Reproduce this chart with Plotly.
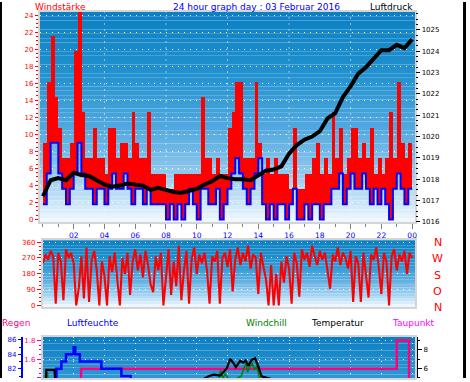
import plotly.graph_objects as go

W, H = 470, 382

# ---------------- data ----------------
DAY_TITLE = "24 hour graph day : 03 Februar 2016"
HOUR_TICKS = [2, 4, 6, 8, 10, 12, 14, 16, 18, 20, 22, 24]
HOUR_LABELS = ["02", "04", "06", "08", "10", "12", "14", "16", "18", "20", "22", "00"]

# wind, 15-minute bins (km/h)
WIND_BIN_HOURS = [i * 0.25 for i in range(96)]
GUST = [9.0, 16.2, 21.6, 14.4, 10.8, 7.2, 7.2, 9.0, 19.8, 25.2, 12.6, 7.2, 7.2, 10.8, 7.2, 7.2,
        5.4, 10.8, 10.8, 7.2, 9.0, 9.0, 7.2, 12.6, 9.0, 7.2, 7.2, 12.6, 5.4, 5.4, 5.4, 5.4,
        3.6, 3.6, 5.4, 5.4, 5.4, 5.4, 5.4, 5.4, 5.4, 14.4, 7.2, 7.2, 5.4, 7.2, 5.4, 5.4,
        10.8, 12.6, 16.2, 16.2, 7.2, 7.2, 7.2, 16.2, 9.0, 5.4, 7.2, 5.4, 7.2, 5.4, 5.4, 5.4,
        3.6, 10.8, 3.6, 3.6, 5.4, 5.4, 7.2, 9.0, 5.4, 7.2, 5.4, 12.6, 7.2, 10.8, 5.4, 7.2,
        10.8, 10.8, 7.2, 9.0, 7.2, 10.8, 5.4, 7.2, 5.4, 7.2, 12.6, 7.2, 16.2, 9.0, 7.2, 9.0]
SPEED = [1.8, 5.4, 9.0, 9.0, 5.4, 3.6, 1.8, 3.6, 5.4, 9.0, 5.4, 3.6, 3.6, 1.8, 3.6, 3.6,
         1.8, 3.6, 5.4, 3.6, 3.6, 5.4, 3.6, 1.8, 3.6, 3.6, 1.8, 3.6, 1.8, 1.8, 1.8, 1.8,
         0.0, 1.8, 0.0, 1.8, 0.0, 1.8, 3.6, 1.8, 0.0, 3.6, 3.6, 1.8, 1.8, 3.6, 0.0, 1.8,
         3.6, 5.4, 7.2, 5.4, 3.6, 1.8, 3.6, 5.4, 7.2, 1.8, 0.0, 1.8, 0.0, 1.8, 1.8, 0.0,
         1.8, 3.6, 0.0, 0.0, 1.8, 0.0, 1.8, 1.8, 0.0, 1.8, 1.8, 3.6, 3.6, 5.4, 1.8, 3.6,
         5.4, 3.6, 3.6, 5.4, 3.6, 1.8, 3.6, 1.8, 3.6, 1.8, 0.0, 3.6, 5.4, 3.6, 1.8, 3.6]

# pressure, 30-minute readings (hPa)
PRESSURE_HOURS = [i * 0.5 for i in range(49)]
PRESSURE = [1017.2, 1017.95, 1018.05, 1017.95, 1018.3, 1018.2, 1018.15, 1017.95, 1017.75, 1017.65,
            1017.7, 1017.8, 1017.75, 1017.7, 1017.5, 1017.6, 1017.5, 1017.4, 1017.35, 1017.45,
            1017.55, 1017.75, 1017.9, 1018.15, 1018.05, 1018.0, 1018.0, 1017.95, 1018.2, 1018.4,
            1018.45, 1018.6, 1019.2, 1019.6, 1019.85, 1020.0, 1020.25, 1020.85, 1021.1, 1021.85,
            1022.35, 1022.95, 1023.25, 1023.65, 1024.05, 1024.05, 1024.3, 1024.15, 1024.55]

# wind direction, 10-minute readings (degrees)
DIR_HOURS = [i / 6 for i in range(145)]
DIRECTION = [240, 290, 260, 310, 280, 10, 300, 250, 30, 320, 270, 300,
             240, 0, 100, 280, 40, 330, 20, 260, 310, 200, 0, 250,
             170, 0, 280, 190, 300, 150, 0, 270, 180, 300, 60, 250,
             320, 200, 290, 160, 310, 230, 120, 75, 280, 200, 300, 0,
             150, 320, 60, 250, 110, 340, 30, 200, 310, 10, 260, 330,
             180, 290, 240, 300, 200, 10, 280, 250, 310, 10, 270, 300,
             220, 320, 80, 260, 330, 230, 300, 250, 340, 210, 290, 270,
             65, 300, 220, 150, 0, 230, 0, 180, 0, 250, 130, 280,
             210, 10, 300, 240, 50, 320, 260, 300, 220, 340, 280, 230,
             310, 260, 300, 200, 95, 290, 250, 330, 230, 300, 270, 210,
             310, 20, 280, 240, 20, 300, 180, 45, 290, 260, 330, 220,
             65, 300, 250, 0, 280, 320, 200, 290, 250, 310, 180, 300,
             270]

# lower panel
HUM_HOURS = [0, 0.88, 1.2, 1.5, 2.0, 2.1, 2.4, 3.8, 5.1, 5.7, 24]
HUMIDITY = [79, 82, 83, 84, 85, 84, 83, 82, 81, 80, 80]
RAIN_HOURS = [0, 2.48, 23.0, 23.8, 24]
RAIN = [1.2, 1.5, 1.8, 0.0, 0.0]
TEMP_HOURS = [0, 0.18, 0.22, 0.75, 0.8, 2, 4, 6, 8, 9, 10, 10.77, 11.1, 11.53, 11.96, 12.17,
              12.39, 12.54, 12.82, 13.03, 13.18, 13.35, 13.57, 13.79, 14.0, 14.21, 15, 18, 21, 24]
TEMP = [4.6, 4.7, 5.85, 5.85, 4.7, 4.4, 4.2, 4.0, 3.9, 4.1, 4.5, 5.16, 5.34, 5.23, 6.03, 7.02,
        6.56, 6.14, 6.81, 6.63, 6.84, 6.28, 6.91, 7.08, 6.21, 5.16, 4.8, 4.5, 4.2, 4.0]
WCHILL_HOURS = [0, 0.25, 0.3, 0.35, 1, 4, 8, 10.5, 11.4, 11.55, 11.7, 11.85, 12.2, 12.9, 13.05,
                13.2, 13.3, 13.45, 13.6, 13.75, 13.9, 14.1, 16, 20, 24]
WCHILL = [3.5, 3.8, 5.6, 4.2, 3.6, 3.2, 3.0, 3.8, 4.6, 5.8, 5.0, 5.4, 4.6, 5.2, 6.0,
          6.5, 5.6, 6.2, 6.5, 5.9, 6.2, 4.8, 4.0, 3.6, 3.4]

# ---------------- helpers (layout only) ----------------
FONT = "DejaVu Sans"
DOTS = "1px,5px"


def fx(px):
    return px / W


def fy(py):
    return 1 - py / H


def lerp_color(stops, t):
    for (t0, c0), (t1, c1) in zip(stops[:-1], stops[1:]):
        if t0 <= t <= t1:
            k = (t - t0) / (t1 - t0) if t1 > t0 else 0
            c = [round(a + (b - a) * k) for a, b in zip(c0, c1)]
            return "rgb(%d,%d,%d)" % tuple(c)
    c = stops[-1][1]
    return "rgb(%d,%d,%d)" % tuple(c)


GRAD_MAIN = [(0.0, (11, 127, 193)), (0.3, (35, 146, 208)), (0.55, (80, 168, 222)),
             (0.75, (140, 198, 236)), (0.9, (200, 228, 247)), (1.0, (243, 249, 255))]
GRAD_LOW = [(0.0, (11, 127, 193)), (1.0, (48, 151, 212))]

shapes = []


def gradient(xref, yref, stops, n):
    for i in range(n):
        t0, t1 = i / n, (i + 1) / n
        shapes.append(dict(type="rect", xref=xref, yref=yref, x0=0, x1=1,
                           y0=1 - t1, y1=1 - t0, line=dict(width=0),
                           fillcolor=lerp_color(stops, (t0 + t1) / 2), layer="below"))


gradient("x domain", "y domain", GRAD_MAIN, 48)
gradient("x2 domain", "y3 domain", GRAD_MAIN, 24)
gradient("x3 domain", "y4 domain", GRAD_LOW, 12)

for hgrid in [4, 8, 12, 16, 20]:
    shapes.append(dict(type="line", xref="x", yref="y domain", x0=hgrid, x1=hgrid, y0=0, y1=1,
                       line=dict(color="white", width=1, dash=DOTS), layer="below"))

# black frame strips
shapes.append(dict(type="rect", xref="paper", yref="paper", x0=0, x1=fx(2), y0=0, y1=1,
                   fillcolor="black", line=dict(width=0)))
shapes.append(dict(type="rect", xref="paper", yref="paper", x0=fx(465), x1=fx(468), y0=0, y1=1,
                   fillcolor="black", line=dict(width=0)))

fig = go.Figure()

fig.add_trace(go.Bar(x=WIND_BIN_HOURS, y=[g - s for g, s in zip(GUST, SPEED)], base=SPEED,
                     width=0.25, offset=0, marker=dict(color="#ff0000", line=dict(width=0)),
                     xaxis="x", yaxis="y"))
fig.add_trace(go.Scatter(x=WIND_BIN_HOURS + [24], y=SPEED + [SPEED[-1]], mode="lines",
                         line=dict(color="#0000ff", width=2, shape="hv"), xaxis="x", yaxis="y"))
fig.add_trace(go.Scatter(x=PRESSURE_HOURS, y=PRESSURE, mode="lines",
                         line=dict(color="black", width=4), xaxis="x", yaxis="y2"))
fig.add_trace(go.Scatter(x=DIR_HOURS, y=DIRECTION, mode="lines",
                         line=dict(color="#ff0000", width=2.1), xaxis="x2", yaxis="y3"))
fig.add_trace(go.Scatter(x=HUM_HOURS, y=HUMIDITY, mode="lines",
                         line=dict(color="#0000ff", width=2.5, shape="hv"), xaxis="x3", yaxis="y5"))
fig.add_trace(go.Scatter(x=WCHILL_HOURS, y=WCHILL, mode="lines",
                         line=dict(color="#008000", width=1.5), xaxis="x3", yaxis="y6"))
fig.add_trace(go.Scatter(x=TEMP_HOURS, y=TEMP, mode="lines",
                         line=dict(color="black", width=2.2), xaxis="x3", yaxis="y6"))
fig.add_trace(go.Scatter(x=RAIN_HOURS, y=RAIN, mode="lines",
                         line=dict(color="#ff0080", width=2.5, shape="hv"), xaxis="x3", yaxis="y4"))

GRID = dict(showgrid=True, gridcolor="white", griddash=DOTS, gridwidth=1)
EDGE = dict(showline=True, linecolor="#d4d4d4", linewidth=2, mirror=True, zeroline=False)
H0, PXH = 43.1, 15.45
XR_TOP = [(40 - H0) / PXH, (417 - H0) / PXH]
XR_LOW = [(43 - H0) / PXH, (417 - H0) / PXH]

annotations = []


def label(text, x, y, color, size=9):
    annotations.append(dict(text=text, x=fx(x), y=fy(y), xref="paper", yref="paper",
                            showarrow=False, xanchor="center", yanchor="middle",
                            font=dict(family=FONT, size=size, color=color)))


label("Windstärke", 61, 5.5, "#ff0000")
label(DAY_TITLE, 257.5, 5.5, "#0000ff")
label("Luftdruck", 393.3, 5.5, "black")
label("Regen", 16, 326, "#ff0080")
label("Luftfeuchte", 93.3, 326, "#0000ff")
label("Windchill", 267.7, 326, "#008000")
label("Temperatur", 339.3, 326, "black")
label("Taupunkt", 415.5, 326, "#ff00ff")
for letter, yy in zip(["N", "W", "S", "O", "N"], [244.3, 260.3, 278, 294.2, 310]):
    label(letter, 439.7, yy, "#ff0000", 11)

fig.update_layout(
    width=W, height=H, autosize=False,
    margin=dict(l=0, r=0, t=0, b=0, pad=0),
    paper_bgcolor="white", plot_bgcolor="white",
    showlegend=False, bargap=0,
    font=dict(family=FONT, size=7),
    shapes=shapes, annotations=annotations,
    xaxis=dict(domain=[fx(40), fx(417)], range=XR_TOP, anchor="y",
               tickmode="array", tickvals=HOUR_TICKS, ticktext=HOUR_LABELS,
               ticks="outside", ticklen=5, tickcolor="#808080",
               tickfont=dict(color="#0000ff", size=7.5, family=FONT),
               minor=dict(dtick=1, tick0=0, ticks="outside", ticklen=3, tickcolor="#808080"),
               showgrid=False, **EDGE),
    yaxis=dict(domain=[fy(224), fy(10)], range=[-0.35, 24.38], anchor="x",
               tick0=0, dtick=2, ticks="outside", ticklen=3, tickcolor="#ff0000",
               tickfont=dict(color="#ff0000", size=7, family=FONT),
               minor=dict(dtick=0.5, tick0=0, ticks="outside", ticklen=2, tickcolor="#ff0000"),
               **GRID, **EDGE),
    yaxis2=dict(overlaying="y", side="right", anchor="x", range=[1015.97, 1025.845],
                tick0=1016, dtick=1, ticks="outside", ticklen=4, tickcolor="black",
                tickfont=dict(color="black", size=7, family=FONT),
                minor=dict(dtick=0.25, tick0=1016, ticks="outside", ticklen=2, tickcolor="black"),
                showgrid=False, zeroline=False, showline=False),
    xaxis2=dict(domain=[fx(43), fx(417)], range=XR_LOW, anchor="y3",
                showticklabels=False, ticks="", showgrid=False, **EDGE),
    yaxis3=dict(domain=[fy(310), fy(242)], range=[-9.5, 371.2], anchor="x2",
                tick0=0, dtick=90, ticks="outside", ticklen=4, tickcolor="#ff0000",
                tickfont=dict(color="#ff0000", size=7, family=FONT),
                minor=dict(dtick=22.5, tick0=0, ticks="outside", ticklen=2, tickcolor="#ff0000"),
                **GRID, **EDGE),
    xaxis3=dict(domain=[fx(43), fx(417)], range=XR_LOW, anchor="y4",
                showticklabels=False, ticks="", tick0=0, dtick=2, **GRID, **EDGE),
    yaxis4=dict(domain=[0, fy(340)], range=[1.4, 1.842], anchor="x3", side="left",
                tick0=0, dtick=0.2, tickformat=".1f", ticks="outside", ticklen=4,
                tickcolor="#ff0080", tickfont=dict(color="#ff0080", size=7, family=FONT),
                minor=dict(dtick=0.05, tick0=0, ticks="outside", ticklen=2, tickcolor="#ff0080"),
                **GRID, **EDGE),
    yaxis5=dict(overlaying="y4", anchor="free", position=fx(22), side="left",
                range=[80.73, 86.45], tick0=0, dtick=2, ticks="outside", ticklen=3,
                tickcolor="#0000ff", tickfont=dict(color="#0000ff", size=7, family=FONT),
                minor=dict(dtick=1, tick0=0, ticks="outside", ticklen=2, tickcolor="#0000ff"),
                showline=True, linecolor="#0000ff", linewidth=2, showgrid=False, zeroline=False),
    yaxis6=dict(overlaying="y4", anchor="free", position=fx(419), side="right",
                range=[4.98, 9.4], tick0=0, dtick=2, ticks="outside", ticklen=4,
                tickcolor="black", tickfont=dict(color="black", size=7, family=FONT),
                minor=dict(dtick=1, tick0=0, ticks="outside", ticklen=2, tickcolor="black"),
                showline=True, linecolor="black", linewidth=1, showgrid=False, zeroline=False),
)

fig.write_html("out.html", config={"displayModeBar": False},
               post_script="document.body.style.margin='0';document.body.style.overflow='hidden';")
